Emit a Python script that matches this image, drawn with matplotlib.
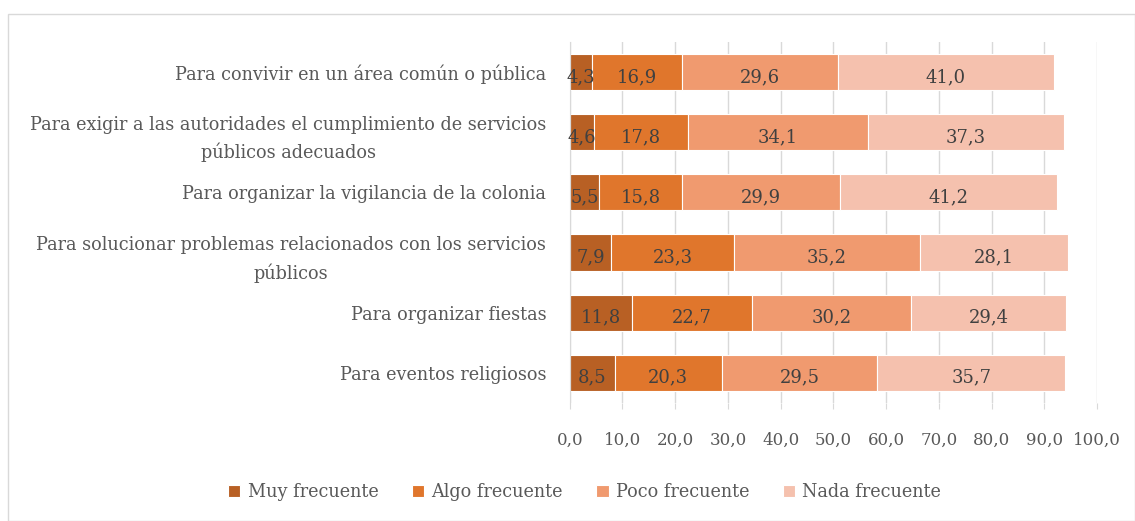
import matplotlib.pyplot as plt
from matplotlib.patches import Rectangle

categorias = [
    "Para convivir en un área común o pública",
    "Para exigir a las autoridades el cumplimiento de servicios\npúblicos adecuados",
    "Para organizar la vigilancia de la colonia",
    "Para solucionar problemas relacionados con los servicios\npúblicos",
    "Para organizar fiestas",
    "Para eventos religiosos",
]
muy = [4.3, 4.6, 5.5, 7.9, 11.8, 8.5]
algo = [16.9, 17.8, 15.8, 23.3, 22.7, 20.3]
poco = [29.6, 34.1, 29.9, 35.2, 30.2, 29.5]
nada = [41.0, 37.3, 41.2, 28.1, 29.4, 35.7]
series = ["Muy frecuente", "Algo frecuente", "Poco frecuente", "Nada frecuente"]
colores = ["#B86024", "#E0762C", "#F09A6F", "#F5C1AE"]

plt.rcParams['font.family'] = ['DejaVu Serif']
texto = "#595959"

fig = plt.figure(figsize=(11.35, 5.21), dpi=100)
ax = fig.add_axes([0.502, 0.227, 0.4645, 0.692])
fig.patches.append(Rectangle((8 / 1135, 0), 1 - 8 / 1135, 1 - 14 / 521,
                             transform=fig.transFigure, fill=False,
                             edgecolor="#d9d9d9", linewidth=1))

y = list(range(len(categorias)))
izq = [0] * len(categorias)
for nombre, vals, c in zip(series, [muy, algo, poco, nada], colores):
    barras = ax.barh(y, vals, left=izq, height=0.6, color=c,
                     edgecolor="white", linewidth=0.8, label=nombre)
    for b, v in zip(barras, vals):
        ax.text(b.get_x() + b.get_width() / 2, b.get_y() + b.get_height() * 0.64,
                f"{v:.1f}".replace(".", ","), ha="center", va="center",
                fontsize=13, color="#404040")
    izq = [a + v for a, v in zip(izq, vals)]

ax.set_xlim(0, 100)
ax.set_ylim(len(categorias) - 0.5, -0.5)
ax.set_xticks(range(0, 101, 10))
ax.set_xticklabels([f"{t},0" for t in range(0, 101, 10)], fontsize=12, color=texto)
ax.set_yticks(y)
ax.set_yticklabels(categorias, fontsize=12.7, color=texto, multialignment="center",
                   linespacing=1.6)
ax.tick_params(axis="y", length=0, pad=17)
ax.tick_params(axis="x", length=4, color="#d9d9d9", pad=17)
ax.grid(axis="x", color="#d9d9d9", linewidth=1)
ax.set_axisbelow(True)
for s in ["top", "right", "bottom"]:
    ax.spines[s].set_visible(False)
ax.spines["left"].set_color("#d9d9d9")

fig.legend(loc="center", bbox_to_anchor=(0.515, 0.055), ncol=4, frameon=False,
           fontsize=12.7, labelcolor=texto, handlelength=0.7, handleheight=0.7,
           handletextpad=0.4, columnspacing=1.9)

plt.savefig("out.png")
